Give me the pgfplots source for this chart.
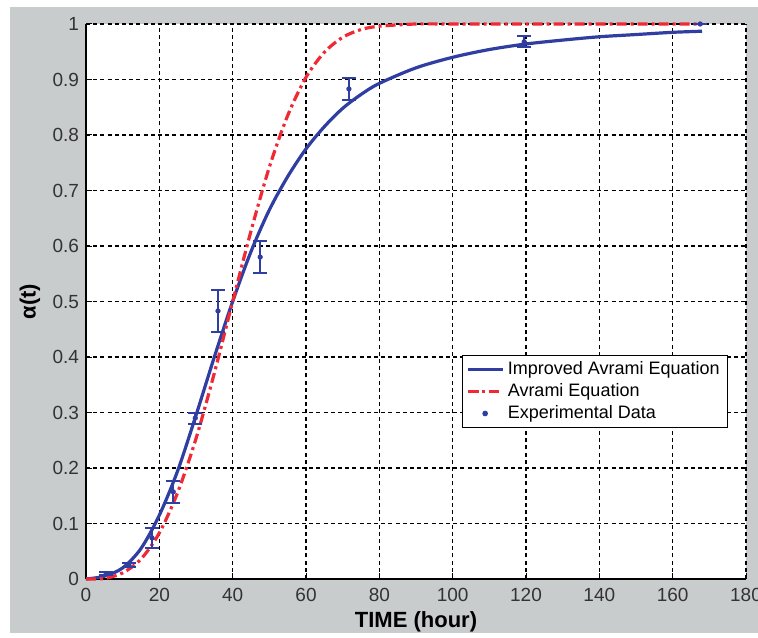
\documentclass[border=0pt]{standalone}
\usepackage{fontspec}
\setmainfont{Liberation Sans}
\usepackage{pgfplots}
\pgfplotsset{compat=1.18}
\definecolor{figbg}{HTML}{C9CCCD}
\definecolor{mblue}{HTML}{2F3EA0}
\definecolor{mred}{HTML}{F02A35}
\definecolor{ticktext}{HTML}{333333}
\begin{document}
\begin{tikzpicture}
\path[use as bounding box, fill=white] (-43pt,-29pt) rectangle (336pt,289.5pt);
\fill[figbg] (-38pt,-27pt) rectangle (336pt,286pt);
\begin{axis}[
  scale only axis,
  width=330pt, height=277.5pt,
  xmin=0, xmax=180, ymin=0, ymax=1,
  xtick={0,20,...,180},
  ytick={0,0.1,...,1.0},
  yticklabels={0,0.1,0.2,0.3,0.4,0.5,0.6,0.7,0.8,0.9,1},
  axis x line*=bottom, axis y line*=left,
  axis line style={black, line width=0.6pt, -},
  tick align=inside,
  major tick length=3pt,
  tick style={black, line width=0.5pt},
  grid=major,
  major grid style={black, line width=0.6pt, dash pattern=on 2pt off 1.6pt},
  axis background/.style={fill=white},
  /pgf/number format/assume math mode=true,
  ticklabel style={font=\fontsize{9.5}{11}\selectfont, text=ticktext},
  xticklabel style={yshift=-1pt},
  xlabel={\textbf{TIME (hour)}},
  ylabel={\textbf{α(t)}},
  label style={font=\fontsize{11}{13}\selectfont},
  xlabel style={at={(axis description cs:0.5,-0.0775)}, anchor=center},
  ylabel style={at={(axis description cs:-0.085,0.5)}, anchor=center},
  legend style={at={(rel axis cs:0.973,0.404)}, anchor=north east,
    draw=black, line width=0.6pt, fill=white, font=\fontsize{9}{11}\selectfont,
    inner xsep=2pt, inner ysep=1pt, row sep=-1pt},
  legend cell align=left,
  clip=false,
]
\addplot[mblue, line width=1.6pt, smooth] coordinates {
(0,0) (5,0.005) (10,0.02) (15,0.055) (20,0.115) (25,0.195) (30,0.295) (35,0.4)
(40,0.5) (45,0.59) (50,0.665) (55,0.725) (60,0.775) (65,0.815) (70,0.848)
(75,0.873) (80,0.893) (90,0.921) (100,0.94) (110,0.954) (120,0.964)
(130,0.971) (140,0.977) (150,0.981) (160,0.985) (168,0.987)
};
\addlegendentry{Improved Avrami Equation}
\addplot[mred, line width=1.6pt, smooth, dash pattern=on 5pt off 2pt on 1.5pt off 2pt] coordinates {
(0,0) (5,0.001) (10,0.011) (15,0.036) (20,0.083) (25,0.156) (30,0.253) (35,0.371)
(40,0.5) (45,0.627) (50,0.742) (55,0.835) (60,0.904) (65,0.949) (70,0.976)
(75,0.990) (80,0.996) (90,1.0) (100,1.0) (120,1.0) (140,1.0) (168,1.0)
};
\addlegendentry{Avrami Equation}
\addplot[mblue, only marks, mark=*, mark size=1.1pt,
  error bars/.cd, y dir=both, y explicit,
  error bar style={mblue, line width=1pt},
  error mark options={rotate=90, mark size=3.5pt, mblue, line width=1pt}]
  coordinates {
(5.5,0.01) +- (0,0.003)
(11.7,0.025) +- (0,0.004)
(18,0.074) +- (0,0.018)
(23.8,0.157) +- (0,0.02)
(29.8,0.29) +- (0,0.01)
(36,0.483) +- (0,0.038)
(47.5,0.58) +- (0,0.029)
(71.7,0.883) +- (0,0.02)
(119.5,0.968) +- (0,0.01)
(167.5,1.0) +- (0,0.0)
};
\addlegendentry{Experimental Data}
\end{axis}
\end{tikzpicture}
\end{document}
